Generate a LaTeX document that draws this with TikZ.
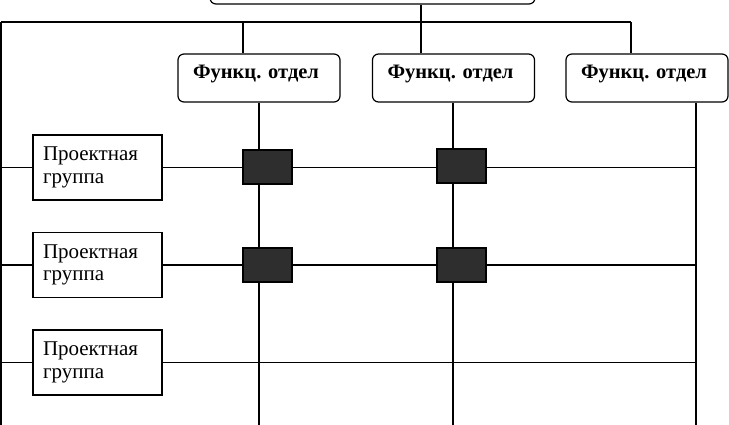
\documentclass[tikz,border=0pt]{standalone}
\usepackage{fontspec}
\setmainfont{Liberation Serif}
\begin{document}
\begin{tikzpicture}[x=1pt,y=-1pt,line width=1.2pt,
  funcbox/.style={draw,rounded corners=6pt,minimum width=162pt,minimum height=48pt,inner sep=0pt,font=\fontsize{20.5}{24}\selectfont\bfseries},
  projbox/.style={draw,minimum width=129pt,minimum height=65pt,inner xsep=10pt,inner ysep=0pt,text width=109pt,align=left,font=\fontsize{21}{22.5}\selectfont},
  sq/.style={draw,fill=black!82,minimum width=49pt,minimum height=34pt,inner sep=0pt}]
\useasboundingbox (0,0) rectangle (729,424);
\clip (0,0) rectangle (729,424);
% top box (partly outside)
\node[draw,rounded corners=6pt,minimum width=325pt,minimum height=48pt] (top) at (372.5,-20) {};
% functional departments
\node[funcbox] (f1) at (259,78) {\raisebox{0pt}[0pt][0pt]{Функц. отдел}\hspace*{6pt}};
\node[funcbox] (f2) at (453.5,78) {\raisebox{0pt}[0pt][0pt]{Функц. отдел}\hspace*{6pt}};
\node[funcbox] (f3) at (647,78) {\raisebox{0pt}[0pt][0pt]{Функц. отдел}\hspace*{6pt}};
% project groups
\node[projbox] (p1) at (97.5,167.5) {Проектная\\группа};
\node[projbox] (p2) at (97.5,265) {Проектная\\группа};
\node[projbox] (p3) at (97.5,362.5) {Проектная\\группа};
% bus coordinates
\coordinate (bus) at (421,22);
\coordinate (busL) at (1,22);
\coordinate (busR) at (631,22);
\coordinate (d1) at (243,22);
\coordinate (d2) at (421,22);
\coordinate (d3) at (631,22);
\coordinate (v1) at (259,430);
\coordinate (v2) at (453,430);
\coordinate (v3) at (696,430);
\coordinate (lb) at (1,430);
% lines
\draw (top.south -| bus) -- (bus);
\draw (busL) -- (busR);
\draw (busL) -- (lb);
\draw (d1) -- (d1 |- f1.north);
\draw (d2) -- (d2 |- f2.north);
\draw (d3) -- (d3 |- f3.north);
\draw (v1 |- f1.south) -- (v1);
\draw (v2 |- f2.south) -- (v2);
\draw (v3 |- f3.south) -- (v3);
\foreach \p in {p1,p2,p3}{
  \draw (lb |- \p.west) -- (\p.west);
  \draw (\p.east) -- (v3 |- \p.east);
}
% matrix cells
\node[sq] (s11) at (267.5,167) {};
\node[sq] (s12) at (461.5,166) {};
\node[sq] (s21) at (267.5,265) {};
\node[sq] (s22) at (461.5,265) {};
\end{tikzpicture}
\end{document}
